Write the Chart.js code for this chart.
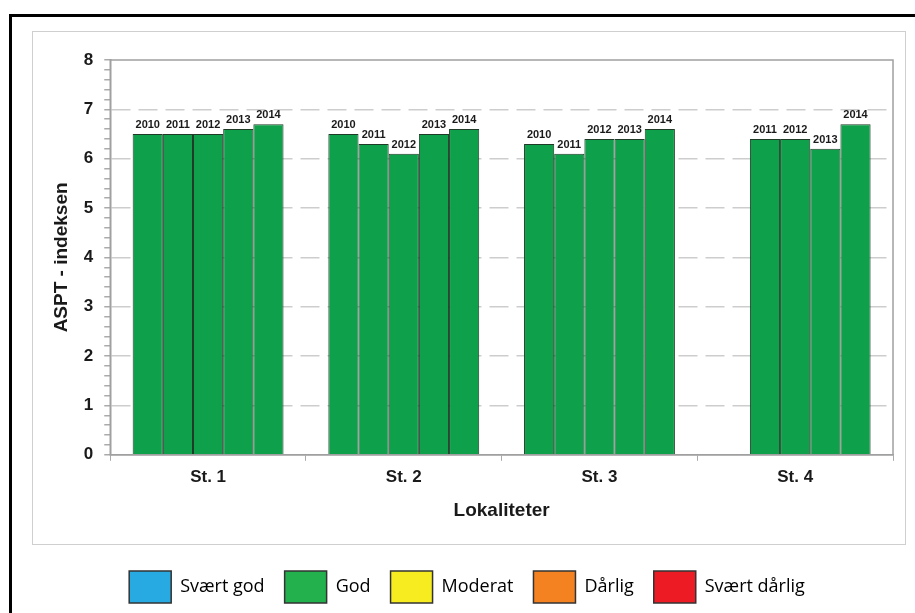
<!DOCTYPE html>
<html>
<head>
<meta charset="utf-8">
<script src="https://cdn.jsdelivr.net/npm/chart.js@4/dist/chart.umd.min.js"></script>
<style>
  body { margin: 0; background: #fff; }
  #wrap { position: relative; width: 915px; height: 613px; overflow: hidden; }
  #frame { position: absolute; left: 9px; top: 14px; width: 920px; height: 620px; border: 3px solid #000; }
  #panel { position: absolute; left: 32px; top: 31px; width: 872px; height: 512px; border: 1.5px solid #cfcfcf; }
  #myChart { position: absolute; left: 0; top: 0; }
</style>
</head>
<body>
<div id="wrap">
  <div id="frame"></div>
  <div id="panel"></div>
  <canvas id="myChart" width="915" height="613"></canvas>
</div>
<script>
// stasjoner og år
var stations = ['St. 1', 'St. 2', 'St. 3', 'St. 4'];
var years = ['2010', '2011', '2012', '2013', '2014'];

// ASPT per år (St. 4 mangler 2010)
var aspt2010 = [6.5, 6.5, 6.3, null];
var aspt2011 = [6.5, 6.3, 6.1, 6.4];
var aspt2012 = [6.5, 6.1, 6.4, 6.4];
var aspt2013 = [6.6, 6.5, 6.4, 6.2];
var aspt2014 = [6.7, 6.6, 6.6, 6.7];

// tilstandsklasser i tegnforklaringen
var classNames = ['Svært god', 'God', 'Moderat', 'Dårlig', 'Svært dårlig'];
var classColors = ['#27aae1', '#22b14c', '#f7ec1f', '#f58220', '#ed1c24'];

var yTicks = [0, 1, 2, 3, 4, 5, 6, 7, 8];

var seriesByYear = [aspt2010, aspt2011, aspt2012, aspt2013, aspt2014];
var barFill = '#0fa04b';
var barEdge = '#1f3b27';
var labelFont = 'bold 11px "Liberation Sans", Arial, sans-serif';

function isMajor(v) {
  return Math.abs(v - Math.round(v)) < 1e-6 && yTicks.indexOf(Math.round(v)) !== -1;
}

// årstall over hver søyle
var yearLabels = {
  id: 'yearLabels',
  afterDatasetsDraw: function(chart) {
    var ctx = chart.ctx;
    ctx.save();
    ctx.font = labelFont;
    ctx.fillStyle = '#1a1a1a';
    ctx.textAlign = 'center';
    ctx.textBaseline = 'alphabetic';
    chart.data.datasets.forEach(function(ds, i) {
      chart.getDatasetMeta(i).data.forEach(function(bar, j) {
        if (ds.data[j] == null) return;
        ctx.fillText(ds.label, bar.x, bar.y - 6);
      });
    });
    ctx.restore();
  }
};

// ramme rundt plottet
var plotFrame = {
  id: 'plotFrame',
  beforeDatasetsDraw: function(chart) {
    var a = chart.chartArea, ctx = chart.ctx;
    ctx.save();
    ctx.strokeStyle = '#a0a0a0';
    ctx.lineWidth = 1.5;
    ctx.strokeRect(a.left, a.top, a.right - a.left, a.bottom - a.top);
    ctx.restore();
  }
};

var ctx = document.getElementById('myChart').getContext('2d');

var chartData = {
  labels: stations,
  datasets: years.map(function(y, i) {
    return {
      label: y,
      data: seriesByYear[i],
      backgroundColor: barFill,
      borderColor: barEdge,
      borderWidth: 1,
      barPercentage: 1,
      categoryPercentage: 0.771
    };
  })
};

var myChart = new Chart(ctx, {
  type: 'bar',
  data: chartData,
  plugins: [plotFrame, yearLabels],
  options: {
    responsive: false,
    animation: false,
    layout: { padding: { left: 41, right: 22, top: 60, bottom: 0 } },
    plugins: {
      tooltip: { enabled: false },
      legend: {
        position: 'bottom',
        onClick: function() {},
        labels: {
          boxWidth: 42,
          boxHeight: 32,
          padding: 20,
          color: '#222',
          font: { family: '"Open Sans", sans-serif', size: 18 },
          generateLabels: function() {
            return classNames.map(function(n, i) {
              return { text: n, fillStyle: classColors[i], strokeStyle: '#333', lineWidth: 1.5, hidden: false };
            });
          }
        }
      }
    },
    scales: {
      x: {
        grid: { drawOnChartArea: false, drawTicks: true, tickLength: 6, tickColor: '#aaa', color: '#aaa' },
        border: { color: '#a0a0a0', width: 1.5 },
        ticks: { color: '#1a1a1a', padding: 6, font: { family: '"Liberation Sans", Arial, sans-serif', size: 17, weight: 'bold' } },
        title: {
          display: true,
          text: 'Lokaliteter',
          color: '#1a1a1a',
          padding: { top: 6, bottom: 29 },
          font: { family: '"Liberation Sans", Arial, sans-serif', size: 19, weight: 'bold' }
        }
      },
      y: {
        min: 0,
        max: 8,
        ticks: {
          stepSize: 0.2,
          autoSkip: false,
          padding: 11,
          color: '#1a1a1a',
          font: { family: '"Liberation Sans", Arial, sans-serif', size: 17, weight: 'bold' },
          callback: function(v) { return isMajor(v) ? String(Math.round(v)) : ''; }
        },
        grid: {
          tickLength: 6,
          tickColor: '#aaa',
          lineWidth: 1.5,
          color: function(c) {
            var v = c.tick ? c.tick.value : 0;
            if (!isMajor(v) || Math.round(v) === 0 || Math.round(v) === 8) return 'transparent';
            return '#cdcdcd';
          }
        },
        border: { color: '#a0a0a0', width: 1.5, dash: [19, 8] },
        title: {
          display: true,
          text: 'ASPT - indeksen',
          color: '#1a1a1a',
          padding: { top: 9, bottom: 0 },
          font: { family: '"Liberation Sans", Arial, sans-serif', size: 19, weight: 'bold' }
        }
      }
    }
  }
});
</script>
</body>
</html>
